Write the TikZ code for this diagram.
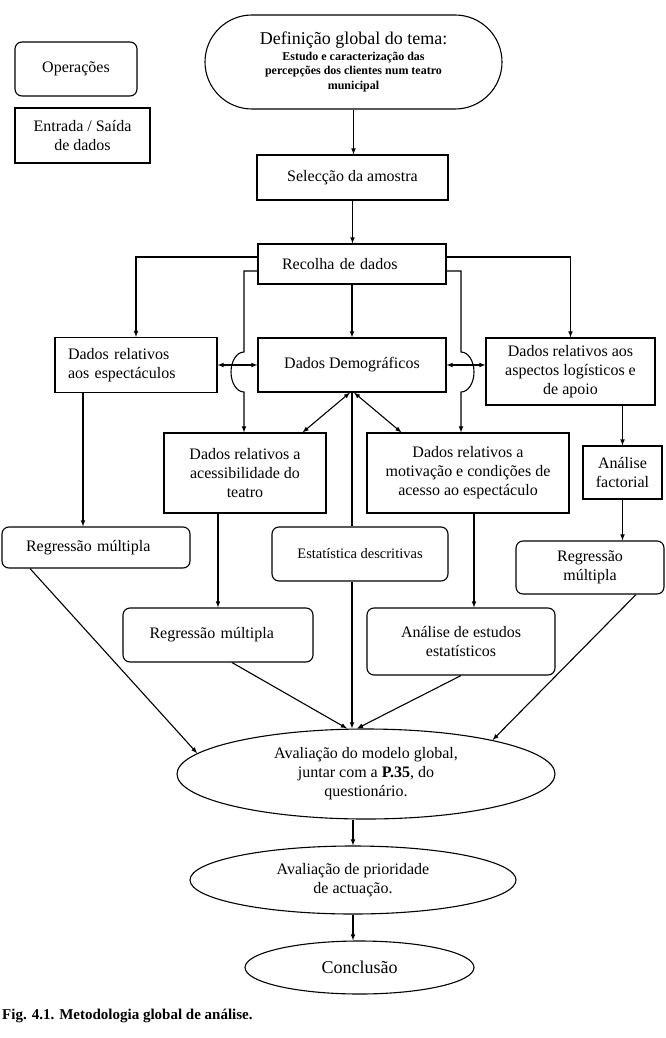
\documentclass[tikz,border=0pt]{standalone}
\usepackage{fontspec}
\setmainfont{Liberation Serif}
\usepackage{tikz}
\usetikzlibrary{shapes,arrows,positioning,calc}

\begin{document}
\begin{tikzpicture}[
    x=1pt, y=-1pt,
    font=\fontsize{16}{19}\selectfont,
    block/.style={rectangle, draw, line width=1.1pt, align=center, inner sep=2pt},
    opbox/.style={block, rounded corners=7pt},
    oval/.style={ellipse, draw, line width=1.1pt, align=center, inner sep=0pt},
    arrow/.style={line width=1.1pt, ->, >=latex},
    dblarrow/.style={line width=1.1pt, <->, >=latex},
    link/.style={line width=1.1pt}
]
\useasboundingbox (0,0) rectangle (665,1038);

% Legend
\node (oper) [opbox, minimum width=122pt, minimum height=54pt] at (76,69) {Operações};
\node (entrada) [block, minimum width=135pt, minimum height=55pt] at (82.5,135.5) {Entrada / Saída\\ de dados};

% Nodes
\node (tema) [block, rounded corners=47pt, minimum width=297pt, minimum height=94pt,
    font=\fontsize{12}{14.5}\selectfont\bfseries] at (353.5,62)
    {{\mdseries\fontsize{18}{21}\selectfont Definição global do tema:}\\[1pt]
     Estudo e caracterização das\\ percepções dos clientes num teatro\\ municipal};
\node (selec) [block, minimum width=191pt, minimum height=45pt] at (352.5,177.5) {Selecção da amostra};
\node (recolha) [block, minimum height=40pt, align=left, text width=140pt, inner xsep=24pt] at (352,264) {Recolha de dados};

\node (espect) [block, minimum height=55pt, align=left, text width=136pt, inner xsep=13pt] at (136,365) {Dados relativos\\aos espectáculos};
\node (demog) [block, minimum width=188pt, minimum height=54pt] at (352,365) {Dados Demográficos};
\node (logist) [block, minimum width=169pt, minimum height=67pt] at (570.5,371.5) {Dados relativos aos\\aspectos logísticos e\\de apoio};

\node (acess) [block, minimum width=162pt, minimum height=80pt] at (245,473) {Dados relativos a\\acessibilidade do\\teatro};
\node (motiv) [block, minimum width=202pt, minimum height=80pt] at (468,473) {Dados relativos a\\motivação e condições de\\acesso ao espectáculo};
\node (fact) [block, minimum width=79pt, minimum height=53pt] at (622.5,472.5) {Análise\\factorial};

\node (regL) [opbox, minimum height=41pt, align=left, text width=140pt, inner xsep=24pt] at (96,547.5) {Regressão múltipla};
\node (estat) [opbox, minimum width=176pt, minimum height=54pt, font=\fontsize{14.5}{17}\selectfont] at (360,554) {Estatística descritivas};
\node (regR) [opbox, minimum width=148pt, minimum height=53pt] at (590,567.5) {Regressão\\múltipla};
\node (regM) [opbox, minimum height=54pt, align=left, text width=137pt, inner xsep=26.5pt] at (218,635) {Regressão múltipla};
\node (analise) [opbox, minimum width=188pt, minimum height=67pt] at (461,641.5) {Análise de estudos\\estatísticos};

\node (aval) [oval, minimum width=378pt, minimum height=90pt] at (366,774) {Avaliação do modelo global,\\juntar com a \textbf{P.35}, do\\questionário.};
\node (prior) [oval, minimum width=326pt, minimum height=68pt] at (353,880) {Avaliação de prioridade\\de actuação.};
\node (concl) [oval, minimum width=229pt, minimum height=53pt, font=\fontsize{18}{21}\selectfont] at (359.5,967.5) {Conclusão};

\node (caption) [anchor=west, inner sep=0pt, font=\fontsize{15}{18}\selectfont\bfseries] at (2,1016) {Fig. 4.1. Metodologia global de análise.};

% Jumps over the double arrows
\coordinate (jumpL) at (244,352);
\coordinate (jumpR) at (461,352);

% Arrows
\draw [arrow] (tema.south) -- (tema.south |- selec.north);
\draw [arrow] (selec.south) -- (selec.south |- recolha.north);
\draw [arrow] (recolha) -- (demog);
\draw [arrow] ([yshift=7pt]recolha.west) -| (espect.north);
\draw [arrow] ([yshift=7pt]recolha.east) -| (logist.north);
\draw [arrow] ([yshift=-7pt]recolha.west) -| (jumpL) arc[start angle=90, end angle=270, x radius=13pt, y radius=20pt] -- (jumpL |- acess.north);
\draw [arrow] ([yshift=-7pt]recolha.east) -| (jumpR) arc[start angle=90, end angle=-90, x radius=13pt, y radius=20pt] -- (jumpR |- motiv.north);

\draw [dblarrow] (espect.east) -- (demog.west);
\draw [dblarrow] (demog.east) -- (demog.east -| logist.west);
\draw [dblarrow] ([xshift=-2pt]demog.south) -- ([xshift=-24pt]acess.north east);
\draw [dblarrow] ([xshift=2pt]demog.south) -- ([xshift=35pt]motiv.north west);
\draw [link] (demog.south) -- (demog.south |- estat.north);

\draw [arrow] ([xshift=-53pt]espect.south) -- ([xshift=-53pt]espect.south |- regL.north);
\draw [arrow] (regM.north |- acess.south) -- (regM.north);
\draw [arrow] ([xshift=6pt]motiv.south) -- ([xshift=6pt]motiv.south |- analise.north);
\draw [arrow] (fact.north |- logist.south) -- (fact.north);
\draw [arrow] (fact.south) -- (fact.south |- regR.north);

% Into the global evaluation
\draw [arrow] ([xshift=-66pt]regL.south) -- (aval.173);
\draw [arrow] ([xshift=14pt]regM.south) -- ([xshift=-19pt]aval.north);
\draw [arrow] (demog.south |- estat.south) -- (demog.south |- aval.north);
\draw [arrow] (analise.south) -- ([xshift=-9pt]aval.north);
\draw [arrow] ([xshift=46pt]regR.south) -- (aval.15);

\draw [arrow] (prior.north |- aval.south) -- (prior.north);
\draw [arrow] (prior.south) -- (prior.south |- concl.north);

\end{tikzpicture}
\end{document}
